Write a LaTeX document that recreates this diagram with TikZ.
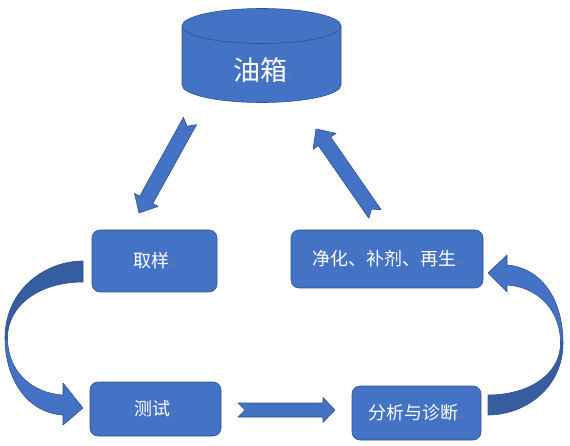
\documentclass[tikz,border=0pt]{standalone}
\usepackage{fontspec}
\usetikzlibrary{calc}
\newfontfamily\cjk{Noto Sans CJK SC}
\newfontfamily\markfont{DejaVu Sans}
\definecolor{fillblue}{HTML}{4472C4}
\definecolor{edgeblue}{HTML}{2F528F}
\definecolor{backblue}{RGB}{54,93,160}
\newcommand\pmark{{\markfont\fontsize{7}{7}\selectfont\textcolor{gray}{↵}}}
% tail, tip, shaft half width, head length, head half width, notch depth
\newcommand\blockarrow[6]{%
  \coordinate (hb) at ($(#2)!#4pt!(#1)$);
  \coordinate (nt) at ($(#1)!#6pt!(#2)$);
  \draw[shapeedge] (nt) -- ($(#1)!#3pt!90:(#2)$) -- ($(hb)!#3pt!-90:(#1)$)
    -- ($(hb)!#5pt!-90:(#1)$) -- (#2) -- ($(hb)!#5pt!90:(#1)$)
    -- ($(hb)!#3pt!90:(#1)$) -- ($(#1)!#3pt!-90:(#2)$) -- cycle;
}
\tikzset{
  shapeedge/.style={fill=fillblue, draw=edgeblue, line width=0.6pt, line join=round},
  backpart/.style={fill=backblue, draw=edgeblue, line width=0.6pt, line join=round},
  box/.style={shapeedge, rounded corners=8pt, inner sep=0pt, text=white,
    font=\cjk\fontsize{18}{18}\selectfont},
  tanktext/.style={inner sep=0pt, text=white, font=\cjk\fontsize{27}{27}\selectfont}
}
\begin{document}
\begin{tikzpicture}[x=1pt,y=1pt,yscale=-1]
\useasboundingbox (0,0) rectangle (570,446);
% tank (cylinder)
\draw[shapeedge] (182,26) -- (182,85) arc[start angle=180,end angle=0,x radius=79.5pt,y radius=17.5pt] -- (341,26) -- cycle;
\draw[shapeedge] (261.5,26) ellipse[x radius=79.5pt, y radius=17.5pt];
\node[tanktext] (tank) at (263,70) {油箱\pmark};
% boxes
\node[box, minimum width=125pt, minimum height=62pt] (sample) at (154.5,261) {取样\pmark};
\node[box, minimum width=131pt, minimum height=54pt] (test) at (155.5,409) {测试\pmark};
\node[box, minimum width=192pt, minimum height=58pt] (purify) at (387,259) {净化、补剂、再生\pmark};
\node[box, minimum width=129pt, minimum height=54pt] (diag) at (416.5,413) {分析与诊断\pmark};
% straight block arrows
\coordinate (a1t) at (190,121);
\coordinate (a1h) at (139,213);
\blockarrow{a1t}{a1h}{7.5}{15}{13.5}{6}
\coordinate (a2t) at (375,214);
\coordinate (a2h) at (316,129);
\blockarrow{a2t}{a2h}{7.5}{15}{14}{6}
\coordinate (a3t) at (238,410);
\coordinate (a3h) at (335,410);
\blockarrow{a3t}{a3h}{7}{12}{12.5}{7}
% left curved arrow (sample -> test)
\draw[backpart] (83,261) .. controls (45,261) and (5,290) .. (5,338) -- (7.5,338)
  .. controls (7.5,305) and (40,282) .. (83,282) -- cycle;
\draw[shapeedge] (5,338) .. controls (5,380) and (28,413) .. (63,415) -- (63,425) -- (83,408)
  -- (63,383) -- (63,395) .. controls (30,393) and (7.5,370) .. (7.5,338) -- cycle;
% right curved arrow (diag -> purify)
\draw[backpart] (488,415) .. controls (525,415) and (563,388) .. (563,343) -- (560.5,343)
  .. controls (560.5,375) and (528,395) .. (488,395) -- cycle;
\draw[shapeedge] (563,343) .. controls (563,300) and (542,268) .. (507,265) -- (507,255) -- (488,273)
  -- (507,292) -- (507,285) .. controls (538,287) and (560.5,310) .. (560.5,343) -- cycle;
\end{tikzpicture}
\end{document}
